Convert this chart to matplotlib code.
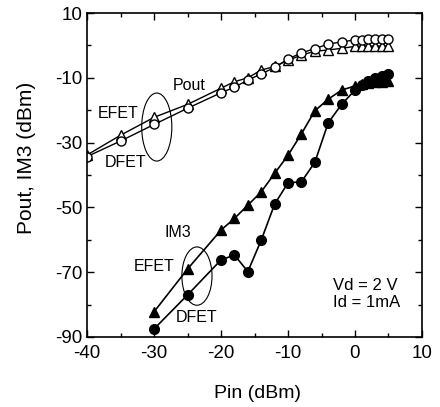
import numpy as np
import matplotlib.pyplot as plt
from matplotlib.patches import Ellipse

plt.rcParams['font.family'] = ['Liberation Sans', 'DejaVu Sans']
plt.rcParams['axes.unicode_minus'] = False

# Pout, DFET (open circles)
pin_pout = [-40, -35, -30, -25, -20, -18, -16, -14, -12, -10, -8, -6, -4, -2, 0, 1, 2, 3, 4, 5]
pout_dfet = [-34.3, -29.5, -24.4, -19.4, -14.6, -12.9, -10.7, -8.8, -6.8, -4.2, -2.3, -1.0, 0.4, 1.1, 1.7, 1.8, 1.9, 1.9, 2.0, 2.0]
# Pout, EFET (open triangles)
pout_efet = [-33.8, -27.7, -22.2, -18.2, -13.2, -11.2, -10.0, -7.6, -6.5, -4.6, -3.0, -1.8, -1.4, -0.9, -0.3, -0.2, -0.2, -0.2, -0.2, -0.2]

# IM3
pin_im3 = [-30, -25, -20, -18, -16, -14, -12, -10, -8, -6, -4, -2, 0, 1, 2, 3, 4, 5]
im3_efet = [-82.2, -69.0, -57.0, -53.4, -49.3, -45.2, -39.5, -33.9, -27.3, -20.2, -16.6, -13.8, -12.5, -12.0, -11.7, -11.4, -11.2, -11.0]
im3_dfet = [-87.5, -77.0, -66.2, -64.7, -69.8, -60.1, -49.0, -42.4, -42.1, -36.1, -23.9, -18.2, -13.8, -12.3, -11.0, -10.0, -9.4, -8.8]

fig = plt.figure(figsize=(4.4, 4.07), dpi=100)
ax = fig.add_axes([0.198, 0.172, 0.761, 0.796])

ax.plot(pin_pout, pout_efet, color='black', lw=1.0, marker='^', ms=6.5,
        mfc='white', mec='black', mew=1.0)
ax.plot(pin_pout, pout_dfet, color='black', lw=1.0, marker='o', ms=6.5,
        mfc='white', mec='black', mew=1.0)
ax.plot(pin_im3, im3_efet, color='black', lw=1.2, marker='^', ms=7,
        mfc='black', mec='black')
ax.plot(pin_im3, im3_dfet, color='black', lw=1.2, marker='o', ms=7,
        mfc='black', mec='black')

ax.add_patch(Ellipse((-29.6, -25.2), 4.5, 21, fill=False, lw=0.8, color='black'))
ax.add_patch(Ellipse((-23.6, -71.2), 4.5, 18, fill=False, lw=0.8, color='black'))

ax.text(-24.8, -12.5, 'Pout', fontsize=11.5, ha='center', va='center')
ax.text(-35.4, -20.9, 'EFET', fontsize=11.5, ha='center', va='center')
ax.text(-34.2, -36.0, 'DFET', fontsize=11.5, ha='center', va='center')
ax.text(-26.4, -57.6, 'IM3', fontsize=11.5, ha='center', va='center')
ax.text(-30.0, -68.1, 'EFET', fontsize=11.5, ha='center', va='center')
ax.text(-23.7, -84.1, 'DFET', fontsize=11.5, ha='center', va='center')
ax.text(-3.3, -74.0, 'Vd = 2 V', fontsize=12, ha='left', va='center')
ax.text(-3.3, -79.3, 'Id = 1mA', fontsize=12, ha='left', va='center')

ax.set_xlim(-40, 10)
ax.set_ylim(-90, 10)
ax.set_xticks(np.arange(-40, 11, 10))
ax.set_yticks(np.arange(-90, 11, 20))
ax.set_xticks(np.arange(-35, 10, 10), minor=True)
ax.set_yticks(np.arange(-80, 10, 20), minor=True)
ax.tick_params(which='both', direction='in', top=True, right=True, labelsize=13.5, width=1.0)
ax.tick_params(which='major', length=5)
ax.tick_params(axis='x', which='major', pad=6)
ax.tick_params(which='minor', length=3)
for s in ax.spines.values():
    s.set_linewidth(1.2)

fig.text(258 / 440, 1 - 393 / 407, 'Pin (dBm)', fontsize=14, ha='center', va='center')
fig.text(27 / 440, 1 - 158 / 407, 'Pout, IM3 (dBm)', fontsize=15, rotation=90,
         ha='center', va='center')

fig.savefig('out.png', dpi=100)
